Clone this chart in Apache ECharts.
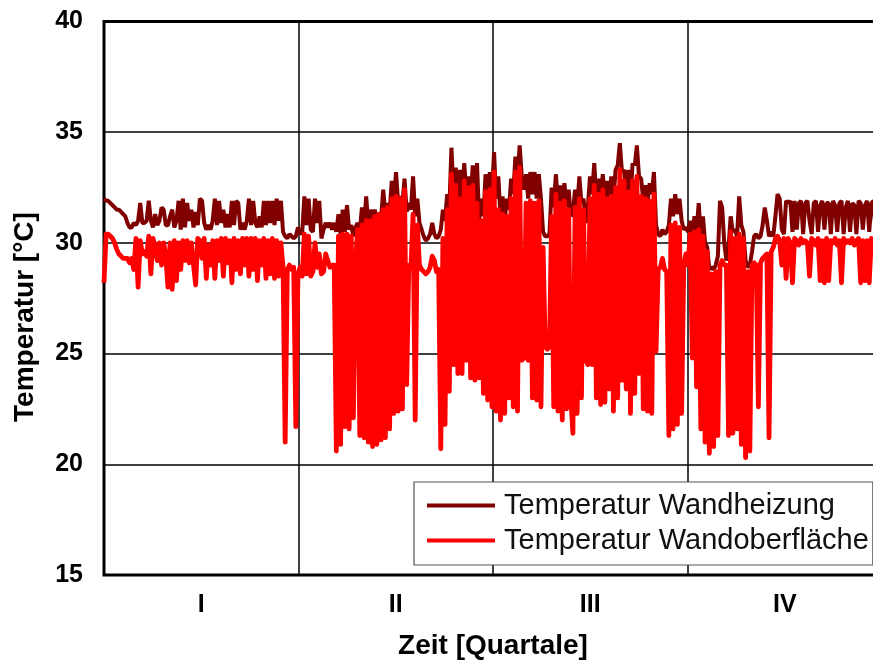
<!DOCTYPE html>
<html>
<head>
<meta charset="utf-8">
<title>Temperatur Wandheizung / Wandoberfläche</title>
<script src="https://cdn.jsdelivr.net/npm/echarts@6/dist/echarts.min.js"></script>
<style>
  html, body { margin: 0; padding: 0; background: #fff; }
  #chart { width: 873px; height: 666px; }
</style>
</head>
<body>
<div id="chart"></div>
<script>
// Quartale (Beschriftung der x-Achse)
var quartale = ['I', 'II', 'III', 'IV'];
// y-Achse
var yMin = 15, yMax = 40, yStep = 5;
// x-Achse: Tage eines Jahres
var tageProJahr = 365;

// Temperatur Wandheizung, ein Wert pro Tag (Tag 0..364)
var wandheizung = [
  32.0, 31.9, 31.9, 31.8, 31.7, 31.6, 31.5, 31.5, 31.4, 31.3,
  31.2, 30.9, 30.7, 30.7, 30.9, 30.8, 31.0, 31.8, 30.9, 30.9,
  31.0, 31.9, 31.0, 30.7, 31.3, 30.8, 31.0, 31.6, 31.5, 30.8,
  30.8, 31.2, 31.5, 30.7, 31.0, 31.9, 30.6, 32.0, 30.7, 31.8,
  31.0, 31.5, 30.7, 31.4, 30.8, 32.0, 31.9, 30.9, 30.6, 30.8,
  30.6, 31.0, 32.0, 30.8, 31.9, 30.9, 31.5, 30.7, 31.3, 30.7,
  31.9, 30.8, 31.9, 31.8, 30.6, 30.9, 30.6, 31.0, 32.0, 30.8,
  31.9, 30.9, 30.7, 31.2, 30.7, 31.9, 30.8, 31.9, 30.9, 31.9,
  30.8, 32.0, 31.0, 31.9, 30.5, 30.3, 30.2, 30.4, 30.3, 30.2,
  30.3, 30.7, 30.4, 30.5, 32.1, 30.8, 32.0, 30.6, 30.5, 32.0,
  30.9, 31.9, 30.2, 30.6, 30.9, 30.7, 30.9, 30.6, 30.9, 30.5,
  31.3, 30.4, 31.5, 30.5, 31.7, 30.6, 30.8, 30.3, 30.7, 30.9,
  30.5, 31.6, 30.7, 32.1, 30.8, 31.5, 30.9, 31.5, 31.0, 31.2,
  31.1, 32.4, 31.3, 31.8, 31.4, 32.8, 31.7, 33.2, 31.8, 32.1,
  31.8, 32.9, 31.4, 31.8, 31.5, 33.0, 31.2, 32.0, 30.9, 30.6,
  30.3, 30.1, 30.2, 30.4, 30.9, 30.4, 30.2, 30.3, 30.6, 31.5,
  31.0, 32.2, 31.5, 34.3, 32.2, 33.4, 31.8, 33.3, 31.9, 33.6,
  32.2, 33.0, 32.0, 33.5, 31.8, 33.6, 31.0, 32.0, 31.2, 33.1,
  31.8, 33.2, 32.2, 34.1, 32.0, 33.0, 31.2, 32.1, 31.0, 32.0,
  31.5, 32.9, 32.2, 33.9, 32.8, 34.4, 33.0, 32.4, 33.1, 32.0,
  33.2, 32.2, 33.2, 32.0, 33.1, 32.0, 30.5, 30.3, 30.3, 30.4,
  32.5, 31.6, 33.1, 31.8, 32.6, 31.6, 32.7, 31.6, 32.4, 31.2,
  31.4, 32.4, 31.5, 33.0, 31.8, 32.0, 30.9, 31.6, 33.0, 32.2,
  33.6, 32.0, 32.9, 32.0, 33.1, 32.0, 32.8, 31.9, 33.0, 31.9,
  33.3, 33.5, 34.5, 33.2, 33.3, 32.2, 33.3, 32.0, 33.6, 33.5,
  34.4, 33.0, 32.9, 31.9, 32.6, 31.8, 32.7, 32.2, 33.2, 30.8,
  30.4, 30.3, 30.6, 30.4, 30.5, 30.8, 32.0, 31.2, 32.2, 31.3,
  32.0, 31.0, 30.6, 30.7, 30.5, 31.0, 30.3, 31.2, 30.5, 31.8,
  30.3, 31.2, 30.0, 29.8, 28.8, 28.9, 28.8, 29.0, 29.4, 31.9,
  31.6, 30.0, 29.2, 29.8, 31.2, 30.5, 30.6, 30.3, 32.1, 30.8,
  30.5, 29.2, 28.9, 29.0, 29.6, 30.3, 30.4, 30.2, 30.3, 30.8,
  31.6, 31.0, 30.3, 30.5, 30.3, 31.2, 32.2, 32.0, 30.6, 30.4,
  31.9, 31.8, 31.9, 30.5, 31.9, 30.6, 31.8, 31.9, 30.4, 31.8,
  31.9, 31.0, 30.4, 31.8, 31.9, 30.5, 31.7, 31.9, 30.6, 31.8,
  31.8, 30.4, 31.9, 31.7, 30.5, 31.8, 31.9, 30.4, 31.6, 31.9,
  30.5, 31.8, 31.7, 30.4, 31.9, 31.8, 30.6, 31.7, 31.9, 30.5,
  31.8, 31.9, 30.5, 31.8, 31.7
];

// Temperatur Wandoberfläche, ein Wert pro Tag (Tag 0..364)
var wandoberflaeche = [
  28.2, 30.4, 30.4, 30.3, 30.2, 30.0, 29.7, 29.5, 29.4, 29.3,
  29.3, 29.3, 29.1, 29.3, 28.8, 30.2, 28.0, 30.1, 29.5, 29.6,
  29.4, 30.3, 28.6, 30.2, 29.8, 29.2, 30.0, 29.0, 30.0, 29.4,
  28.0, 30.0, 27.9, 30.1, 28.3, 30.0, 28.8, 30.1, 29.2, 30.1,
  29.1, 30.0, 29.0, 28.1, 30.2, 30.1, 29.3, 30.2, 28.4, 29.9,
  29.0, 30.1, 28.4, 30.1, 29.2, 30.2, 28.5, 30.2, 29.1, 30.1,
  28.2, 30.2, 28.8, 30.1, 28.6, 30.2, 29.0, 30.2, 28.5, 30.2,
  28.8, 30.2, 28.3, 30.1, 29.0, 30.2, 28.4, 30.1, 28.6, 30.2,
  28.4, 30.1, 28.5, 30.0, 28.9, 21.0, 28.8, 29.0, 28.8, 28.9,
  21.7, 28.6, 28.9, 28.5, 30.4, 28.6, 30.3, 28.5, 28.7, 30.0,
  28.9, 29.5, 28.6, 28.7, 29.5, 29.2, 28.9, 29.0, 29.0, 20.6,
  30.3, 20.9, 30.4, 21.7, 30.4, 21.6, 30.3, 22.1, 29.2, 30.6,
  21.3, 30.8, 21.2, 31.0, 21.0, 31.0, 20.8, 31.2, 20.9, 31.3,
  21.1, 31.5, 21.2, 31.6, 21.6, 32.0, 22.3, 32.1, 22.4, 32.0,
  22.5, 32.4, 23.6, 29.0, 28.9, 31.3, 22.0, 30.8, 29.0, 28.8,
  28.7, 28.6, 28.7, 28.9, 29.4, 29.2, 28.7, 28.8, 20.7, 30.2,
  21.8, 31.5, 23.3, 33.1, 24.5, 32.6, 24.1, 32.0, 24.1, 32.8,
  24.7, 32.5, 23.9, 32.6, 23.8, 31.8, 23.9, 31.0, 23.2, 32.3,
  22.9, 32.4, 22.6, 33.2, 22.4, 31.5, 22.0, 31.3, 22.3, 31.2,
  23.0, 32.0, 22.6, 33.2, 22.4, 33.4, 24.7, 24.8, 31.8, 24.7,
  31.9, 23.0, 31.8, 22.9, 31.9, 22.6, 29.8, 25.3, 25.2, 25.3,
  31.2, 22.6, 32.2, 22.4, 31.8, 22.0, 31.9, 22.5, 31.5, 23.0,
  21.4, 31.6, 22.3, 32.0, 23.0, 31.5, 24.7, 24.5, 32.0, 24.5,
  32.6, 23.0, 32.2, 22.7, 32.4, 22.8, 32.0, 23.4, 32.1, 22.4,
  32.5, 23.0, 33.3, 23.8, 32.8, 23.4, 32.3, 22.3, 32.8, 23.2,
  33.0, 24.1, 32.1, 22.5, 32.0, 22.4, 31.9, 22.3, 32.2, 25.1,
  28.8, 28.9, 29.3, 28.8, 28.7, 21.3, 30.8, 21.6, 30.9, 21.8,
  30.7, 22.3, 29.0, 29.5, 29.0, 30.4, 24.8, 30.5, 23.5, 30.6,
  21.6, 30.3, 21.0, 29.6, 20.5, 28.6, 20.8, 28.7, 21.3, 29.0,
  29.2, 29.0, 29.0, 21.3, 30.5, 21.4, 30.2, 21.6, 30.4, 20.9,
  30.2, 20.3, 28.7, 20.6, 29.0, 29.1, 29.0, 22.6, 29.1, 29.3,
  29.4, 29.5, 21.2, 29.6, 29.8, 30.2, 30.3, 30.1, 29.0, 30.2,
  28.4, 30.2, 30.0, 28.2, 30.2, 30.1, 29.9, 30.2, 30.0, 30.1,
  30.0, 28.5, 30.2, 30.1, 29.9, 30.2, 28.3, 30.1, 28.2, 30.2,
  28.3, 30.1, 30.0, 30.2, 29.9, 30.1, 28.2, 30.2, 30.0, 30.1,
  30.0, 30.2, 29.9, 30.1, 30.2, 28.2, 30.1, 28.3, 30.1, 28.2,
  30.2, 30.1, 29.9, 30.1, 30.0
];

var schrift = '"Liberation Sans", Arial, Helvetica, sans-serif';
var dunkelrot = '#800000';
var rot = '#ff0000';

const chart = echarts.init(document.getElementById('chart'));

var option = {
    animation: false,
    backgroundColor: '#fff',
    // das Diagramm reicht rechts etwas über den Bildrand hinaus
    grid: {
        left: 104,
        width: 778,
        top: 21.5,
        bottom: 91,
        outerBoundsMode: 'none',
        containLabel: false,
        show: true,
        borderColor: '#000',
        borderWidth: 3,
        backgroundColor: 'transparent'
    },
    legend: {
        orient: 'vertical',
        left: 414,
        top: 482,
        padding: [9, 4, 10, 13],
        itemGap: 6,
        itemWidth: 68,
        itemHeight: 4,
        icon: 'rect',
        backgroundColor: '#fff',
        borderColor: '#555',
        borderWidth: 1.2,
        borderRadius: 0,
        textStyle: {
            fontFamily: schrift,
            fontSize: 29,
            color: '#111',
            padding: [0, 0, 0, 4]
        },
        data: ['Temperatur Wandheizung', 'Temperatur Wandoberfläche']
    },
    xAxis: [
        {
            type: 'value',
            position: 'bottom',
            min: 0,
            max: tageProJahr,
            interval: tageProJahr / 4,
            axisLine: { show: false },
            axisTick: { show: false },
            axisLabel: { show: false },
            splitLine: { show: true, lineStyle: { color: '#000', width: 1.5 } },
            name: 'Zeit [Quartale]',
            nameLocation: 'middle',
            nameGap: 57,
            nameTextStyle: { fontFamily: schrift, fontWeight: 'bold', fontSize: 28, color: '#000' }
        },
        {
            type: 'category',
            position: 'bottom',
            data: quartale,
            boundaryGap: true,
            axisLine: { show: false },
            axisTick: { show: false },
            splitLine: { show: false },
            axisLabel: { margin: 18, fontFamily: schrift, fontWeight: 'bold', fontSize: 25, color: '#000' }
        }
    ],
    yAxis: {
        type: 'value',
        min: yMin,
        max: yMax,
        interval: yStep,
        axisLine: { show: false },
        axisTick: { show: false },
        axisLabel: { margin: 21, fontFamily: schrift, fontWeight: 'bold', fontSize: 25, color: '#000' },
        splitLine: { show: true, lineStyle: { color: '#000', width: 1.5 } }
    },
    graphic: [
        {
            type: 'text',
            x: 25,
            y: 317,
            rotation: Math.PI / 2,
            style: {
                text: 'Temperatur [°C]',
                font: 'bold 28px ' + schrift,
                fill: '#000',
                align: 'center',
                verticalAlign: 'middle'
            }
        }
    ],
    series: [
        {
            name: 'Temperatur Wandheizung',
            type: 'line',
            xAxisIndex: 0,
            symbol: 'none',
            data: wandheizung.map(function (v, i) { return [i, v]; }),
            lineStyle: { color: dunkelrot, width: 4 },
            itemStyle: { color: dunkelrot }
        },
        {
            name: 'Temperatur Wandoberfläche',
            type: 'line',
            xAxisIndex: 0,
            symbol: 'none',
            data: wandoberflaeche.map(function (v, i) { return [i, v]; }),
            lineStyle: { color: rot, width: 4.8, join: 'round' },
            itemStyle: { color: rot }
        }
    ]
};

chart.setOption(option);
</script>
</body>
</html>
